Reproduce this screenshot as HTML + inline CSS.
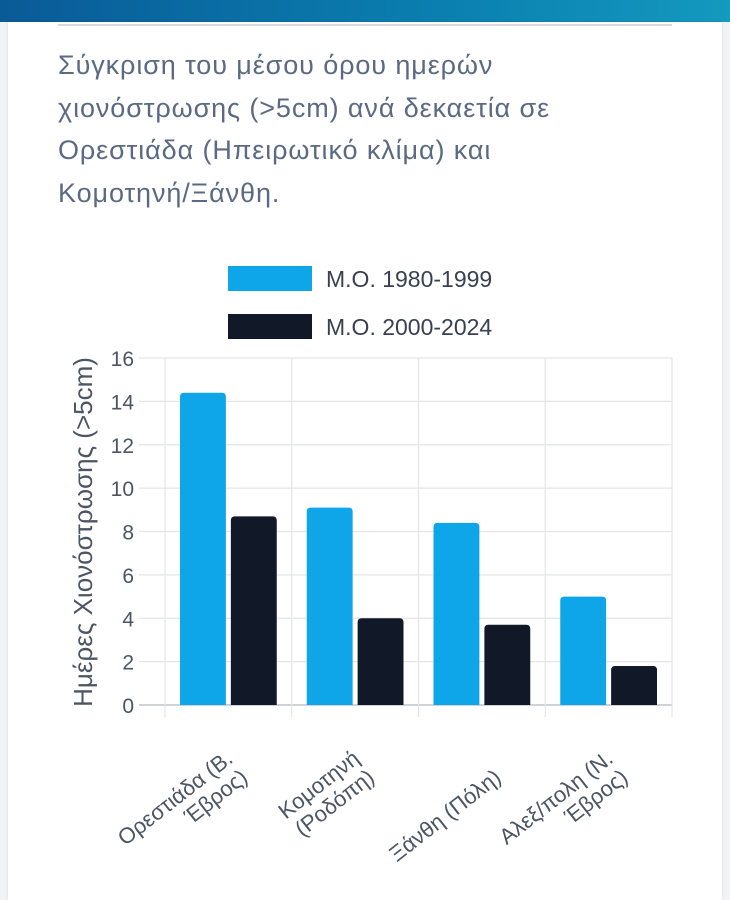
<!DOCTYPE html>
<html><head><meta charset="utf-8"><style>
body{margin:0;width:730px;height:900px;background:#f1f3f6;overflow:hidden;font-family:"Liberation Sans","Noto Sans CJK SC",sans-serif;}
#bar{position:absolute;left:0;top:0;width:730px;height:22px;background:linear-gradient(90deg,#0a5a98,#0a7fb0 60%,#1499bf);}
#card{position:absolute;left:8px;top:22px;width:714px;height:878px;background:#fff;box-shadow:0 0 3px rgba(0,0,0,.1);}
#rule{position:absolute;left:58px;top:24px;width:614px;height:2px;background:#d8dadd;}
#title{position:absolute;left:58px;top:44px;width:545px;font-size:27px;letter-spacing:0.9px;line-height:42.5px;color:#5b6a82;}
svg{position:absolute;left:0;top:0;}
</style></head><body>
<div id="bar"></div>
<div id="card"></div>
<div id="rule"></div>
<div id="title">Σύγκριση του μέσου όρου ημερών<br>χιονόστρωσης (&gt;5cm) ανά δεκαετία σε<br>Ορεστιάδα (Ηπειρωτικό κλίμα) και<br>Κομοτηνή/Ξάνθη.</div>
<svg id="chart" width="730" height="900"></svg>
<script>
const categories=[["Ορεστιάδα (Β.","Έβρος)"],["Κομοτηνή","(Ροδόπη)"],["Ξάνθη (Πόλη)"],["Αλεξ/πολη (Ν.","Έβρος)"]];
const series1=[14.4,9.1,8.4,5.0];
const series2=[8.7,4.0,3.7,1.8];
const seriesNames=["Μ.Ο. 1980-1999","Μ.Ο. 2000-2024"];
const yTicks=[0,2,4,6,8,10,12,14,16];
const colors=["#0ea5e9","#111827"];
const svg=document.getElementById('chart');
const NS="http://www.w3.org/2000/svg";
const x0=147,x1=672,cx0=165,y0=705,y1=358,ymax=16;
const band=(x1-cx0)/categories.length;
const y=v=>y0-(v/ymax)*(y0-y1);
const xb=i=>cx0+i*band;
function mk(t,a){const e=document.createElementNS(NS,t);for(const k in a)e.setAttribute(k,a[k]);svg.appendChild(e);return e;}
yTicks.forEach(t=>{
 const l=mk('line',{x1:x0-8,x2:x1,y1:y(t),y2:y(t),stroke:t===0?'#cfd3d8':'#e3e5e8','stroke-width':t===0?2:1.2});
 
 
 const tx=mk('text',{x:x0-13,y:y(t)+8,'text-anchor':'end','font-size':21,fill:'#4b5563'});
 tx.textContent=t;
 
 
});
for(let i=0;i<=categories.length;i++){
 const l=mk('line',{x1:xb(i),x2:xb(i),y1:y1,y2:y0+12,stroke:'#e3e5e8','stroke-width':1.2});
 
 
}
function bar(x,w,v,c){const top=y(v),r=4;
 return mk('path',{d:`M${x},${y0}V${top+r}Q${x},${top} ${x+r},${top}H${x+w-r}Q${x+w},${top} ${x+w},${top+r}V${y0}Z`,fill:c});}
const pad=15,gap=5,bw=(band-2*pad-gap)/2;
categories.forEach((c,i)=>{
 const b1=bar(xb(i)+pad,bw,series1[i],colors[0]);
 
 
 const b2=bar(xb(i)+pad+bw+gap,bw,series2[i],colors[1]);
 
 
 const ax=xb(i)+band/2+12,ay=y0+64;
 const t=mk('text',{transform:`translate(${ax},${ay}) rotate(-38)`,'text-anchor':'end','font-size':22,fill:'#4b5563'});
 
 
 c.forEach((ln,k)=>{const s=document.createElementNS(NS,'tspan');s.setAttribute('x',0);s.setAttribute('y',(k-(c.length-1))*24+14);s.textContent=ln;t.appendChild(s);});
});
const at=mk('text',{transform:'translate(92,532) rotate(-90)','text-anchor':'middle','font-size':26,fill:'#4b5563'});
at.textContent='Ημέρες Χιονόστρωσης (>5cm)';


seriesNames.forEach((n,i)=>{
 const r=mk('rect',{x:228,y:266+i*48,width:84,height:25,fill:colors[i]});
 
 
 const t=mk('text',{x:326,y:287+i*48,'font-size':23,fill:'#374151'});
 t.textContent=n;
 
 
});
</script>
</body></html>
